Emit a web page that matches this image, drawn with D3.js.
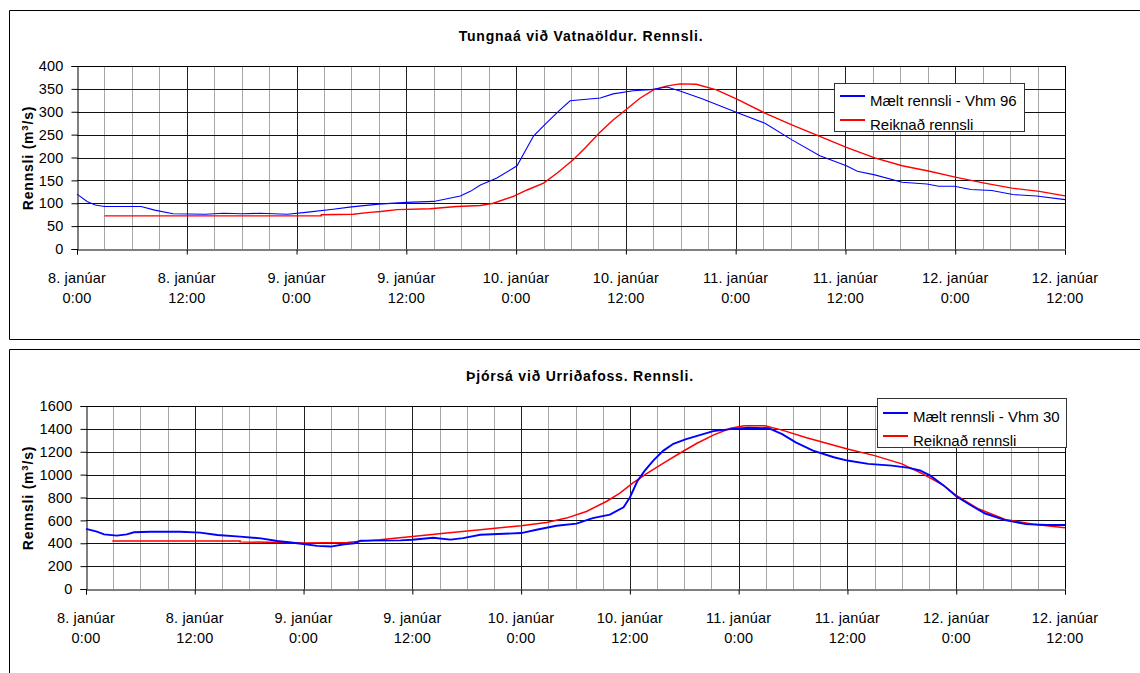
<!DOCTYPE html>
<html>
<head>
<meta charset="utf-8">
<script src="https://cdn.jsdelivr.net/npm/d3@7"></script>
<style>
  html, body { margin: 0; padding: 0; background: #fff; }
  svg { display: block; font-family: "Liberation Sans", Arial, sans-serif; }
</style>
</head>
<body>
<svg id="chart" width="1140" height="673"></svg>
<script>
// ---------- DATA ----------
// time axis: hours since 8. janúar 0:00
const tickHours = [0, 12, 24, 36, 48, 60, 72, 84, 96, 108];
const tickLabelsDay = ["8. janúar", "8. janúar", "9. janúar", "9. janúar", "10. janúar",
                       "10. janúar", "11. janúar", "11. janúar", "12. janúar", "12. janúar"];
const tickLabelsTime = ["0:00", "12:00", "0:00", "12:00", "0:00", "12:00", "0:00", "12:00", "0:00", "12:00"];

// Chart 1 : Tungnaá við Vatnaöldur
const tungnaaTitle = "Tungnaá við Vatnaöldur. Rennsli.";
const tungnaaYTicks = [0, 50, 100, 150, 200, 250, 300, 350, 400];
const tungnaaSeriesNames = ["Mælt rennsli - Vhm 96", "Reiknað rennsli"];
const tungnaaMeasured = [
  [0,120],[1.1,104],[2,96],[3,93],[7,93],[8.5,85],[10.5,77],[14,76],[16,78],[18,77],[20,78],
  [23,76],[25,80],[28,87],[30,92],[33,98],[36,102],[39,104],[41.9,116],[43,126],[44.1,140],
  [45.9,155],[48.1,182],[49.9,247],[51.3,275],[52.8,304],[53.9,324],[57.2,330],[58.6,339],
  [60.8,346],[62.6,348],[64.5,354],[66,345],[68.4,328],[72.2,298],[75.2,275],[78.2,238],
  [81.2,204],[84.1,182],[85.3,170],[87.2,162],[90.2,146],[92.9,142],[94.2,137],[95.9,137],
  [97.7,130],[100,128],[102.3,119],[104.9,116],[108,108]
];
const tungnaaComputed = [
  [3,72.5],[26.7,72.5],[26.7,75],[30.2,76],[32,80],[33.2,82],[35,86],[38.6,88],[41.5,93],
  [44.1,95],[45.5,100],[47.7,115],[49.2,129],[51,144],[52.5,166],[54.3,196],[55.7,224],
  [57.2,256],[58.6,282],[60.1,306],[61.5,329],[63,348],[64.4,356],[65.9,361],[67.7,360],
  [69.9,348],[72.2,327],[75.2,297],[78.2,271],[81.2,246],[84.1,222],[87.2,199],[90.2,182],
  [93.2,170],[96,157],[99.2,144],[102.2,133],[105.2,126],[108,116]
];

// Chart 2 : Þjórsá við Urriðafoss
const thjorsaTitle = "Þjórsá við Urriðafoss. Rennsli.";
const thjorsaYTicks = [0, 200, 400, 600, 800, 1000, 1200, 1400, 1600];
const thjorsaSeriesNames = ["Mælt rennsli - Vhm 30", "Reiknað rennsli"];
const thjorsaMeasured = [
  [0,525],[1.2,501],[2,478],[3.4,467],[4.5,478],[5.3,496],[7.1,501],[10.4,501],[12.6,493],
  [14.5,472],[17,458],[19.3,443],[21.1,420],[22.6,406],[24,394],[25.5,377],[27,371],[28.5,391],
  [29.6,400],[30.3,423],[34.7,425],[36,430],[38.3,448],[40.2,432],[41.6,445],[43.5,474],
  [48,489],[49.7,518],[51.9,553],[54.1,572],[55.9,620],[57.8,650],[59.3,715],[60,800],
  [60.8,940],[61.6,1030],[62.6,1125],[63.7,1210],[64.8,1270],[66.2,1310],[67.7,1345],
  [69.2,1380],[71.1,1398],[73,1410],[75.3,1406],[76.8,1354],[78.3,1282],[80.2,1210],
  [82.5,1152],[84,1123],[86.3,1094],[88.9,1079],[90.8,1059],[92,1036],[93.1,993],[94.6,906],
  [96,810],[97.6,732],[99.2,660],[101.4,602],[103.7,567],[106,559],[108,559]
];
const thjorsaComputed = [
  [2.9,420],[17,420],[17,412],[21.8,406],[24,403],[28.8,406],[30.3,417],[32.4,430],[36,460],
  [39.8,489],[43.5,518],[48,553],[50.8,582],[53,620],[55.2,678],[57.4,765],[58.9,838],
  [60.3,925],[61.8,1006],[63.7,1100],[65.5,1187],[67.4,1274],[69.2,1345],[71.1,1406],
  [72.6,1427],[74.9,1427],[76.8,1389],[79.4,1325],[84,1224],[87,1166],[90,1094],[92.3,1007],
  [94.6,906],[96,819],[98.4,703],[101.4,608],[104.5,567],[108,535]
];

// ---------- DRAWING ----------
const svg = d3.select("#chart");
const TICK_FONT = "14.5px";
const TICK_LS = "0.2px";

function drawChart(cfg) {
  const g = svg.append("g");
  // outer frame
  g.append("path")
    .attr("d", cfg.framePath)
    .attr("fill", "none").attr("stroke", "#000").attr("stroke-width", 1);

  const x = d3.scaleLinear().domain([0, 108]).range([cfg.left, cfg.right]);
  const y = d3.scaleLinear().domain([0, cfg.yMax]).range([cfg.bottom, cfg.top]);

  // minor vertical gridlines every 3 hours
  const minor = d3.range(0, 109, 3).filter(h => h % 12 !== 0);
  g.append("g").selectAll("line").data(minor).join("line")
    .attr("x1", d => Math.round(x(d)) + 0.5).attr("x2", d => Math.round(x(d)) + 0.5)
    .attr("y1", cfg.top).attr("y2", cfg.bottom)
    .attr("stroke", "#a6a6a6").attr("stroke-width", 1);
  // major vertical gridlines
  g.append("g").selectAll("line").data(tickHours.slice(1)).join("line")
    .attr("x1", d => Math.round(x(d)) + 0.5).attr("x2", d => Math.round(x(d)) + 0.5)
    .attr("y1", cfg.top).attr("y2", cfg.bottom)
    .attr("stroke", "#222").attr("stroke-width", 1);
  // horizontal gridlines
  g.append("g").selectAll("line").data(cfg.yTicks.slice(1)).join("line")
    .attr("x1", cfg.left).attr("x2", cfg.right)
    .attr("y1", d => Math.round(y(d)) + 0.5).attr("y2", d => Math.round(y(d)) + 0.5)
    .attr("stroke", "#111").attr("stroke-width", 1);

  // y axis
  const yAxis = d3.axisLeft(y).tickValues(cfg.yTicks).tickSize(6).tickPadding(8)
    .tickFormat(d3.format("d"));
  const ya = g.append("g").attr("transform", `translate(${Math.round(cfg.left) + 0.5},0)`).call(yAxis);
  ya.select(".domain").attr("stroke", "#000");
  ya.selectAll(".tick line").attr("stroke", "#000");
  ya.selectAll("text").attr("font-size", TICK_FONT).attr("letter-spacing", TICK_LS).attr("fill", "#000")
    .attr("font-family", "Liberation Sans, Arial, sans-serif");

  // x axis
  const xAxis = d3.axisBottom(x).tickValues(tickHours).tickSize(5).tickFormat("");
  const xa = g.append("g").attr("transform", `translate(0,${Math.round(cfg.bottom) + 0.5})`).call(xAxis);
  xa.select(".domain").attr("stroke", "#000");
  xa.selectAll(".tick line").attr("stroke", "#000");
  const lab = g.append("g").attr("font-size", TICK_FONT).attr("letter-spacing", TICK_LS)
    .attr("text-anchor", "middle").attr("fill", "#000");
  lab.selectAll("text.d").data(tickHours).join("text").attr("class", "d")
    .attr("x", d => x(d)).attr("y", cfg.bottom + 34).text((d, i) => tickLabelsDay[i]);
  lab.selectAll("text.t").data(tickHours).join("text").attr("class", "t")
    .attr("x", d => x(d)).attr("y", cfg.bottom + 54).text((d, i) => tickLabelsTime[i]);

  // plot border top & right
  g.append("path")
    .attr("d", `M${cfg.left},${Math.round(cfg.top) + 0.5}H${Math.round(cfg.right) + 0.5}V${cfg.bottom}`)
    .attr("fill", "none").attr("stroke", "#000");

  // lines
  const line = d3.line().x(d => x(d[0])).y(d => y(d[1]));
  g.append("path").datum(cfg.computed).attr("d", line)
    .attr("fill", "none").attr("stroke", "#ff0000").attr("stroke-width", cfg.redW);
  g.append("path").datum(cfg.measured).attr("d", line)
    .attr("fill", "none").attr("stroke", "#0000ff").attr("stroke-width", cfg.blueW);

  // title
  g.append("text").attr("x", cfg.titleX).attr("y", cfg.titleY)
    .attr("text-anchor", "middle").attr("font-size", "14px").attr("font-weight", "bold")
    .attr("letter-spacing", "0.8px")
    .text(cfg.title);

  // y label
  const yl = g.append("text")
    .attr("transform", `translate(${cfg.yLabelX},${cfg.yLabelY}) rotate(-90)`)
    .attr("text-anchor", "middle").attr("font-size", "14px").attr("font-weight", "bold")
    .attr("letter-spacing", "0.8px");
  yl.append("tspan").text("Rennsli (m");
  yl.append("tspan").attr("font-size", "9.5px").attr("dy", -5).text("3");
  yl.append("tspan").attr("dy", 5).text("/s)");

  // legend
  const L = cfg.legend;
  const clipId = "clip" + cfg.id;
  svg.append("defs").append("clipPath").attr("id", clipId)
    .append("rect").attr("x", L.x).attr("y", L.y).attr("width", L.w).attr("height", L.h);
  const lg = g.append("g");
  lg.append("rect").attr("x", L.x + 0.5).attr("y", L.y + 0.5).attr("width", L.w).attr("height", L.h)
    .attr("fill", "#fff").attr("stroke", "#333").attr("stroke-width", 1);
  const items = lg.append("g").attr("clip-path", `url(#${clipId})`);
  const colors = ["#0000ff", "#ff0000"];
  cfg.names.forEach((nm, i) => {
    items.append("line").attr("x1", L.x + 6).attr("x2", L.x + 31)
      .attr("y1", L.lineY[i]).attr("y2", L.lineY[i])
      .attr("stroke", colors[i]).attr("stroke-width", 2);
    items.append("text").attr("x", L.x + 36).attr("y", L.textY[i])
      .attr("font-size", "15px").text(nm);
  });
}

drawChart({
  id: 1,
  framePath: "M1140,10.5H9.5V339.5H1140",
  left: 77, right: 1065, top: 66, bottom: 249,
  yMax: 400, yTicks: tungnaaYTicks,
  measured: tungnaaMeasured, computed: tungnaaComputed,
  blueW: 1.1, redW: 1.4,
  title: tungnaaTitle, titleX: 581, titleY: 41,
  yLabelX: 33, yLabelY: 158,
  names: tungnaaSeriesNames,
  legend: { x: 834, y: 83, w: 190, h: 48, lineY: [96, 120], textY: [106, 130] }
});

drawChart({
  id: 2,
  framePath: "M1140,349.5H9.5V673",
  left: 86, right: 1065, top: 406, bottom: 589,
  yMax: 1600, yTicks: thjorsaYTicks,
  measured: thjorsaMeasured, computed: thjorsaComputed,
  blueW: 1.9, redW: 1.5,
  title: thjorsaTitle, titleX: 580, titleY: 381,
  yLabelX: 33, yLabelY: 498,
  names: thjorsaSeriesNames,
  legend: { x: 877, y: 398, w: 189, h: 49, lineY: [413, 436], textY: [422, 446] }
});
</script>
</body>
</html>
